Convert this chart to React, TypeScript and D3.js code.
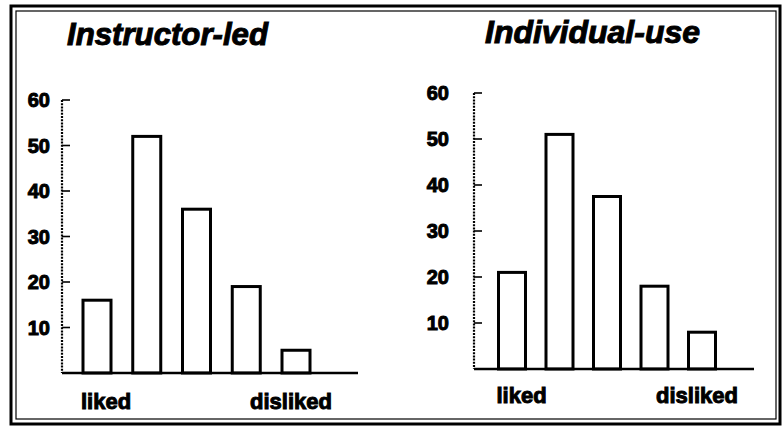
import React from 'react';
import * as d3 from 'd3';

const categories = ['1', '2', '3', '4', '5'];
const instructorLed = [16, 52, 36, 19, 5];
const individualUse = [21, 51, 37.5, 18, 8];
const yTicks = [10, 20, 30, 40, 50, 60];
const panelTitles = ['Instructor-led', 'Individual-use'];
const endLabels = ['liked', 'disliked'];

const W = 782;
const H = 427;
const FONT = '"Liberation Sans", Arial, sans-serif';

// per-panel layout
const panels = [
  { title: panelTitles[0], values: instructorLed, axisX: 62, y0: 373, yTop: 100, c0: 97, c1: 296, barW: 28, baseEnd: 358, tickGap: 12, titleX: 67, titleY: 45, titleW: 201, labelY: 409 },
  { title: panelTitles[1], values: individualUse, axisX: 474, y0: 369, yTop: 93, c0: 512, c1: 702, barW: 27, baseEnd: 754, tickGap: 25, titleX: 485, titleY: 43, titleW: 215, labelY: 403 },
];

function Panel({ p }) {
  const y = d3.scaleLinear().domain([0, 60]).range([p.y0, p.yTop]);
  const x = d3.scalePoint().domain(categories).range([p.c0, p.c1]);
  const heavy = { fill: '#000', stroke: '#000', strokeWidth: 1, fontFamily: FONT, fontWeight: 700 };

  return (
    <g>
      <text x={p.titleX} y={p.titleY} fontSize={31} fontStyle="italic" textLength={p.titleW}
        lengthAdjust="spacingAndGlyphs" {...heavy}>{p.title}</text>

      {/* y axis */}
      <line x1={p.axisX} x2={p.axisX} y1={y(60)} y2={y(0)} stroke="#000" strokeWidth={2.2} strokeDasharray="2,1.2" />
      {yTicks.map(t => (
        <g key={t}>
          <line x1={p.axisX} x2={p.axisX + 8} y1={y(t)} y2={y(t)} stroke="#000" strokeWidth={1.6} />
          <text x={p.axisX - p.tickGap} y={y(t) + 2} textAnchor="end" dominantBaseline="middle"
            fontSize={20} {...heavy}>{t}</text>
        </g>
      ))}

      {/* bars */}
      {p.values.map((v, i) => (
        <rect key={i} x={x(categories[i]) - p.barW / 2} y={y(v)} width={p.barW} height={y(0) - y(v)}
          fill="#fff" stroke="#000" strokeWidth={3} />
      ))}

      {/* baseline */}
      <line x1={p.axisX} x2={p.baseEnd} y1={y(0)} y2={y(0)} stroke="#000" strokeWidth={2.5} />

      <text x={x(categories[0]) - p.barW / 2 - 2} y={p.labelY} fontSize={22} {...heavy}>{endLabels[0]}</text>
      <text x={x(categories[4]) - 5} y={p.labelY} textAnchor="middle" fontSize={22} {...heavy}>{endLabels[1]}</text>
    </g>
  );
}

export default function App() {
  return (
    <svg width={W} height={H} style={{ position: 'absolute', left: 0, top: 0, background: '#fff' }}>
      <rect x={0} y={0} width={W} height={H} fill="#fff" />
      {/* scanned double frame */}
      <rect x={11} y={6} width={769} height={418} fill="none" stroke="#000" strokeWidth={3} />
      <rect x={16} y={11} width={760} height={408} fill="none" stroke="#000" strokeWidth={1.2} />
      {panels.map(p => <Panel key={p.title} p={p} />)}
    </svg>
  );
}
